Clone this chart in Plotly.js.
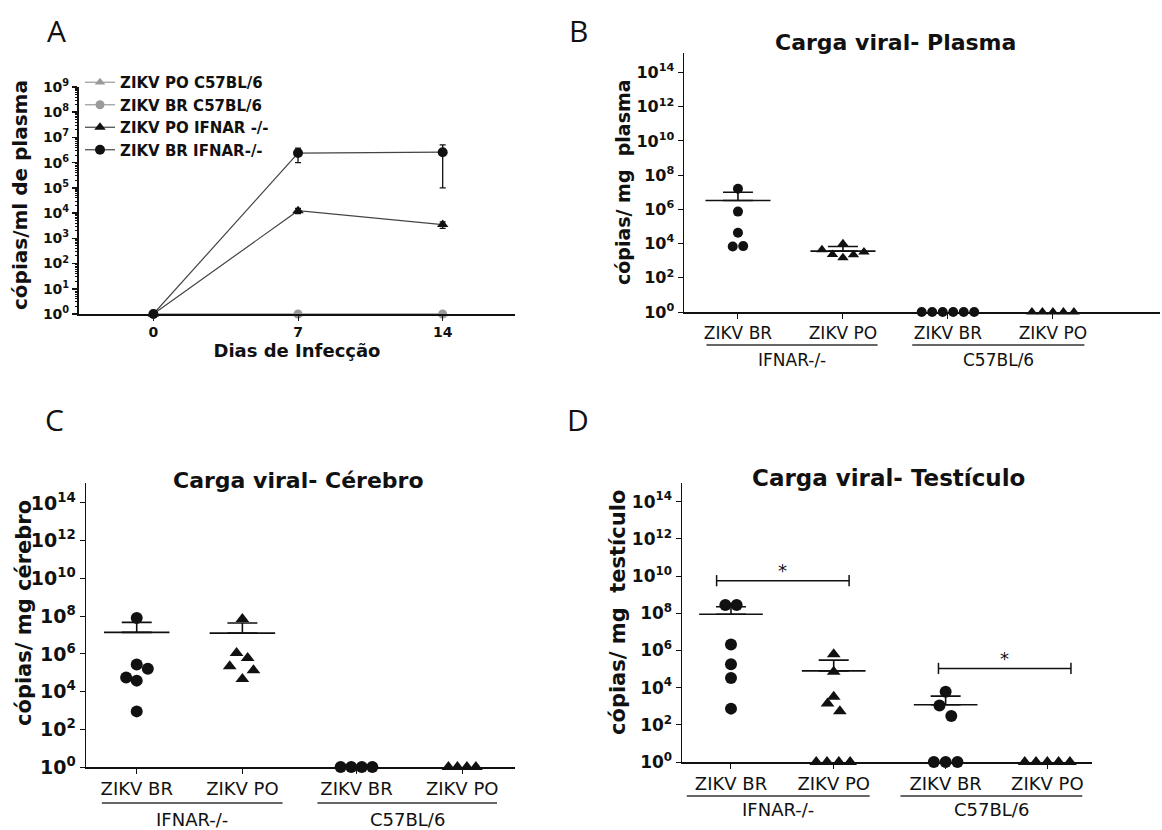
<!DOCTYPE html>
<html><head><meta charset="utf-8">
<script src="https://cdn.plot.ly/plotly-3.0.1.min.js"></script>
<style>html,body{margin:0;padding:0;background:#fff}#chart{width:1162px;height:830px}</style>
</head><body><div id="chart"></div>
<script>
// ---------------- Panel A data ----------------
const daysA = [0, 7, 14];
const legendNamesA = ['ZIKV PO C57BL/6', 'ZIKV BR C57BL/6', 'ZIKV PO IFNAR -/-', 'ZIKV BR IFNAR-/-'];
const poC57A = [1, 1, 1];
const brC57A = [1, 1, 1];
const poIfnarA = [1, 1.25e4, 3.5e3];
const poIfnarErrA = [0, 3.0e3, 1.0e3];
const brIfnarA = [1, 2.4e6, 2.6e6];
const brIfnarErrA = [0, 1.4e6, 2.5e6];
const yExpA = [0, 1, 2, 3, 4, 5, 6, 7, 8, 9];
const titleXA = 'Dias de Infecção';
const titleYA = 'cópias/ml de plasma';

// ---------------- Panels B–D data ----------------
const groupLabels = ['ZIKV BR', 'ZIKV PO', 'ZIKV BR', 'ZIKV PO'];
const strainLabels = ['IFNAR-/-', 'C57BL/6'];
const yExpBCD = [0, 2, 4, 6, 8, 10, 12, 14];

const plasmaBrIfnar = [1.6e7, 7.4e5, 4.3e4, 6.8e3, 7.1e3];
const plasmaPoIfnar = [4.4e3, 2.3e3, 9.8e3, 1.5e3, 2.2e3, 3.2e3];
const plasmaBrC57 = [1, 1, 1, 1, 1, 1];
const plasmaPoC57 = [1, 1, 1, 1, 1];
const plasmaMean = [3.3e6, 3.6e3, null, null];
const plasmaSem = [6.7e6, 3.2e3, null, null];

const brainBrIfnar = [7.9e7, 2.7e5, 1.6e5, 5.6e4, 3.8e4, 890];
const brainPoIfnar = [7.1e7, 1.1e6, 6.0e5, 2.2e5, 1.35e5, 4.7e4];
const brainBrC57 = [1, 1, 1, 1];
const brainPoC57 = [1, 1, 1, 1];
const brainMean = [1.38e7, 1.26e7, null, null];
const brainSem = [3.3e7, 3.1e7, null, null];

const testisBrIfnar = [2.75e8, 2.75e8, 2.1e6, 1.8e5, 3.3e4, 740];
const testisPoIfnar = [6.3e5, 7.1e4, 3.2e3, 1.4e3, 540, 1, 1, 1, 1];
const testisBrC57 = [5.9e3, 1.1e3, 300, 1, 1, 1];
const testisPoC57 = [1, 1, 1, 1, 1];
const testisMean = [8.7e7, 7.9e4, 1.2e3, null];
const testisSem = [1.37e8, 2.2e5, 2.3e3, null];
const testisSigText = ['*', '*'];

const titlesBCD = ['Carga viral- Plasma', 'Carga viral- Cérebro', 'Carga viral- Testículo'];
const yTitlesBCD = ['cópias/ mg  plasma', 'cópias/ mg cérebro', 'cópias/ mg  testículo'];
const panelLetters = ['A', 'B', 'C', 'D'];

// ---------------- layout configuration (positions / styles) ----------------
const W = 1162, H = 830;
const px = v => v / W;
const py = v => 1 - v / H;
const INK = '#111';
const GRAY = '#9a9a9a';
const sup = e => '10<sup>' + e + '</sup>';

const panels = [
  { // B
    ax: '2', xdom: [684, 1160], ydom: [53, 312], xr: [-0.514, 4.02], yr: [0, 15.14],
    pos: [0, 1, 2, 3],
    groups: [plasmaBrIfnar, plasmaPoIfnar, plasmaBrC57, plasmaPoC57],
    jitter: [[0, 0, 0, -0.05, 0.05], [-0.2, -0.1, 0, 0, 0.1, 0.2],
             [-0.25, -0.15, -0.05, 0.05, 0.15, 0.25], [-0.2, -0.1, 0, 0.1, 0.2]],
    mean: plasmaMean, sem: plasmaSem,
    msize: 10, tsize: 10, tickF: 16, catF: 17, grpF: 17, titleF: 22, yTitleF: 19,
    under: [[-0.3, 1.33], [1.66, 3.3]], underY: 345, grpY: 360,
    title: [895, 42], yTitle: [623, 182], letter: [578, 30]
  },
  { // C
    ax: '3', xdom: [86, 515], ydom: [483, 767], xr: [-0.48, 3.58], yr: [0, 15.06],
    pos: [0, 1, 2.08, 3.08],
    groups: [brainBrIfnar, brainPoIfnar, brainBrC57, brainPoC57],
    jitter: [[0, 0, 0.105, -0.1, 0, 0], [0, -0.055, 0.05, -0.12, 0.105, 0],
             [-0.15, -0.05, 0.05, 0.15], [-0.13, -0.045, 0.045, 0.13]],
    mean: brainMean, sem: brainSem,
    msize: 12, tsize: 12, tickF: 19, catF: 18, grpF: 18, titleF: 22, yTitleF: 21,
    under: [[-0.33, 1.38], [1.71, 3.41]], underY: 803, grpY: 819,
    title: [298, 480], yTitle: [24, 613], letter: [54, 420]
  },
  { // D
    ax: '4', xdom: [682, 1092], ydom: [483, 762], xr: [-0.477, 3.515], yr: [0, 15.0],
    pos: [0, 1, 2.09, 3.08],
    groups: [testisBrIfnar, testisPoIfnar, testisBrC57, testisPoC57],
    jitter: [[-0.055, 0.055, 0, 0, 0, 0], [0, 0, 0, -0.06, 0.06, -0.17, -0.065, 0.05, 0.16],
             [0, -0.06, 0.055, -0.115, 0, 0.115], [-0.22, -0.11, 0, 0.11, 0.22]],
    mean: testisMean, sem: testisSem,
    msize: 12, tsize: 12, tickF: 17, catF: 18, grpF: 18, titleF: 23, yTitleF: 21,
    under: [[-0.43, 1.35], [1.65, 3.42]], underY: 796, grpY: 809,
    title: [888, 478], yTitle: [618, 613], letter: [578, 420],
    sig: [{ x0: -0.14, x1: 1.15, y: 5.6e9 }, { x0: 2.02, x1: 3.31, y: 1.07e5 }]
  }
];

const ann = o => Object.assign({ showarrow: false, xanchor: 'center', yanchor: 'middle' }, o);

// ---------------- traces ----------------
const traces = [];
const aStyles = [
  { y: poC57A, err: null, color: GRAY, symbol: 'triangle-up', size: 9 },
  { y: brC57A, err: null, color: GRAY, symbol: 'circle', size: 9 },
  { y: poIfnarA, err: poIfnarErrA, color: INK, symbol: 'triangle-up', size: 10 },
  { y: brIfnarA, err: brIfnarErrA, color: INK, symbol: 'circle', size: 10 }
];
aStyles.forEach((s, i) => {
  traces.push({
    type: 'scatter', mode: 'lines+markers', x: daysA, y: s.y, name: legendNamesA[i],
    xaxis: 'x', yaxis: 'y', cliponaxis: false,
    line: { color: s.color === INK ? '#444' : s.color, width: 1.2 },
    marker: { color: s.color, symbol: s.symbol, size: s.size },
    error_y: s.err ? { type: 'data', array: s.err, color: INK, thickness: 1.3, width: 3 } : { visible: false },
    showlegend: true
  });
});
// empty trace that carries the minor-tick axis of panel A
traces.push({ type: 'scatter', mode: 'markers', x: [], y: [], xaxis: 'x', yaxis: 'y5', showlegend: false, hoverinfo: 'skip' });

const annotations = [];
const shapes = [];

panels.forEach((p, pi) => {
  const xa = 'x' + p.ax, ya = 'y' + p.ax;
  p.groups.forEach((vals, g) => {
    traces.push({
      type: 'scatter', mode: 'markers', xaxis: xa, yaxis: ya, cliponaxis: false, showlegend: false,
      x: vals.map((v, i) => p.pos[g] + p.jitter[g][i]), y: vals,
      marker: { color: INK, symbol: g % 2 === 0 ? 'circle' : 'triangle-up', size: g % 2 === 0 ? p.msize : p.tsize }
    });
  });
  const idx = p.mean.map((m, i) => i).filter(i => p.mean[i] !== null);
  traces.push({
    type: 'scatter', mode: 'markers', xaxis: xa, yaxis: ya, showlegend: false, cliponaxis: false,
    x: idx.map(i => p.pos[i]), y: idx.map(i => p.mean[i]),
    marker: { size: 1, color: 'rgba(0,0,0,0)' },
    error_x: { type: 'data', array: idx.map(() => 0.31), color: INK, thickness: 1.6, width: 0 },
    error_y: { type: 'data', symmetric: false, array: idx.map(i => p.sem[i]), arrayminus: idx.map(() => 0),
               color: INK, thickness: 1.6, width: 15 }
  });
  if (p.sig) {
    p.sig.forEach((s, k) => {
      traces.push({
        type: 'scatter', mode: 'lines+markers', xaxis: xa, yaxis: ya, showlegend: false, cliponaxis: false,
        x: [s.x0, s.x1], y: [s.y, s.y], line: { color: INK, width: 1.5 },
        marker: { symbol: 'line-ns-open', size: 8, line: { color: INK, width: 1.5 } }
      });
      annotations.push(ann({ xref: xa, yref: ya, x: (s.x0 + s.x1) / 2, y: Math.log10(s.y), text: testisSigText[k],
        yshift: 10, font: { size: 18, color: INK, family: 'DejaVu Sans' } }));
    });
  }
  p.under.forEach((u, k) => {
    shapes.push({ type: 'line', xref: xa, yref: 'paper', x0: u[0], x1: u[1], y0: py(p.underY), y1: py(p.underY),
      line: { color: '#333', width: 1.5 } });
    annotations.push(ann({ xref: xa, yref: 'paper', x: (u[0] + u[1]) / 2, y: py(p.grpY), text: strainLabels[k],
      font: { size: p.grpF, color: INK, family: 'DejaVu Sans' } }));
  });
  annotations.push(ann({ xref: 'paper', yref: 'paper', x: px(p.title[0]), y: py(p.title[1]), text: '<b>' + titlesBCD[pi] + '</b>',
    font: { size: p.titleF, color: INK, family: 'DejaVu Sans' } }));
  annotations.push(ann({ xref: 'paper', yref: 'paper', x: px(p.yTitle[0]), y: py(p.yTitle[1]), text: '<b>' + yTitlesBCD[pi] + '</b>',
    textangle: -90, font: { size: p.yTitleF, color: INK, family: 'DejaVu Sans' } }));
  annotations.push(ann({ xref: 'paper', yref: 'paper', x: px(p.letter[0]), y: py(p.letter[1]), text: panelLetters[pi + 1],
    font: { size: 30, color: INK, family: 'Open Sans' } }));
});

annotations.push(ann({ xref: 'paper', yref: 'paper', x: px(20), y: py(195), text: '<b>' + titleYA + '</b>', textangle: -90,
  font: { size: 20, color: INK, family: 'DejaVu Sans' } }));
annotations.push(ann({ xref: 'paper', yref: 'paper', x: px(56), y: py(30), text: panelLetters[0],
  font: { size: 30, color: INK, family: 'Open Sans' } }));

// ---------------- axes ----------------
const minorA = [];
yExpA.slice(0, -1).forEach(e => { for (let m = 2; m <= 9; m++) minorA.push(m * Math.pow(10, e)); });

const layout = {
  width: W, height: H, margin: { l: 0, r: 0, t: 0, b: 0 },
  paper_bgcolor: '#fff', plot_bgcolor: '#fff',
  font: { family: 'DejaVu Sans', color: INK },
  showlegend: true,
  legend: { x: px(80), y: py(66), xanchor: 'left', yanchor: 'top', bgcolor: 'rgba(0,0,0,0)',
    font: { size: 15, color: INK, family: 'DejaVu Sans', weight: 'bold' }, tracegroupgap: 0 },
  xaxis: { domain: [px(79), px(515)], range: [-3.6, 17.5], anchor: 'y',
    tickmode: 'array', tickvals: daysA, ticktext: daysA.map(String),
    showline: true, linecolor: INK, linewidth: 1.5, ticks: 'outside', ticklen: 5, tickcolor: INK,
    showgrid: false, zeroline: false, tickfont: { size: 14, weight: 'bold' },
    title: { text: '<b>' + titleXA + '</b>', font: { size: 18 }, standoff: 4 } },
  yaxis: { domain: [py(314), py(87)], type: 'log', range: [0, 9], anchor: 'x',
    tickmode: 'array', tickvals: yExpA.map(e => Math.pow(10, e)), ticktext: yExpA.map(sup),
    showline: true, linecolor: INK, linewidth: 2, ticks: 'outside', ticklen: 5, tickcolor: INK, tickwidth: 1.5,
    showgrid: false, zeroline: false, tickfont: { size: 14, weight: 'bold' } },
  yaxis5: { domain: [py(314), py(87)], type: 'log', range: [0, 9], anchor: 'x', overlaying: 'y', side: 'left',
    tickmode: 'array', tickvals: minorA, showticklabels: false, ticks: 'outside', ticklen: 3, tickwidth: 1,
    tickcolor: INK, showline: false, showgrid: false, zeroline: false },
  annotations, shapes
};

panels.forEach(p => {
  layout['xaxis' + p.ax] = {
    domain: [px(p.xdom[0]), px(p.xdom[1])], range: p.xr, anchor: 'y' + p.ax,
    tickmode: 'array', tickvals: p.pos, ticktext: groupLabels,
    showline: true, linecolor: INK, linewidth: 1.5, ticks: 'outside', ticklen: 5, tickcolor: INK,
    showgrid: false, zeroline: false, tickfont: { size: p.catF }
  };
  layout['yaxis' + p.ax] = {
    domain: [py(p.ydom[1]), py(p.ydom[0])], type: 'log', range: p.yr, anchor: 'x' + p.ax,
    tickmode: 'array', tickvals: yExpBCD.map(e => Math.pow(10, e)), ticktext: yExpBCD.map(sup),
    showline: true, linecolor: INK, linewidth: 1.5, ticks: 'outside', ticklen: 5, tickcolor: INK,
    showgrid: false, zeroline: false, tickfont: { size: p.tickF, weight: 'bold' }
  };
});

Plotly.newPlot('chart', traces, layout, { displayModeBar: false, staticPlot: true });
</script>
</body></html>
